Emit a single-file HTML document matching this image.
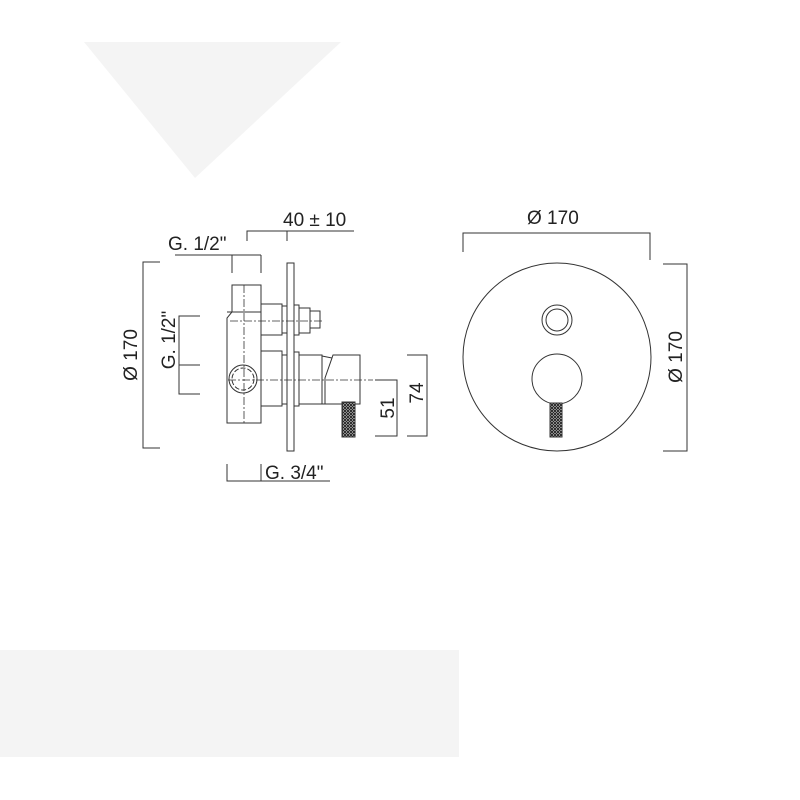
<!DOCTYPE html>
<html><head><meta charset="utf-8"><style>
html,body{margin:0;padding:0;background:#fff;width:800px;height:800px;overflow:hidden}
svg{display:block}
text{font-family:"Liberation Sans",sans-serif;font-size:19px;fill:#222}
</style></head><body>
<svg width="800" height="800" viewBox="0 0 800 800" xmlns="http://www.w3.org/2000/svg">
<defs>
<pattern id="kn" width="3" height="3" patternUnits="userSpaceOnUse">
<rect width="3" height="3" fill="#eee"/><path d="M0 0L3 3M3 0L0 3" stroke="#222" stroke-width="1"/>
</pattern>
</defs>
<polygon points="84,42 341,42 195,178" fill="#f4f4f4"/>
<rect x="0" y="650" width="459" height="107" fill="#f4f4f4"/>
<g fill="none" stroke="#333" stroke-width="1">
<path d="M160,262H143V448H160"/>
<path d="M200,316H179V394H200M179,365H200"/>
<path d="M175,255H261M232,255V273M261,255V273"/>
<path d="M247,241V231H354M287,231V241"/>
<path d="M227,464V481H330M261,464V481"/>
<path d="M375,380H397V436H375"/>
<path d="M407,355H427V436H407"/>
<path d="M232,285H261V423H227V318L232,312Z"/>
<path d="M227,312H261"/>
<rect x="261" y="304" width="21" height="31"/>
<rect x="282" y="306" width="5" height="27"/>
<rect x="287" y="263" width="7" height="188"/>
<rect x="294" y="305" width="5" height="30"/>
<rect x="299" y="308" width="11" height="25"/>
<rect x="310" y="311" width="10" height="17"/>
<rect x="261" y="351" width="21" height="55"/>
<rect x="282" y="355" width="5" height="49"/>
<rect x="294" y="352" width="5" height="54"/>
<rect x="299" y="355" width="23" height="49"/>
<path d="M322,356L332,358L325,378V404H360V355H333L325,378"/>
<path d="M322,404H325"/>
<circle cx="243" cy="379" r="14"/>
<circle cx="243" cy="379" r="11" stroke-dasharray="5,2"/>
<rect x="342" y="402" width="13" height="35" fill="url(#kn)"/>
<g stroke-dasharray="8,2,2,2" stroke-width="0.8">
<path d="M244,285V423"/>
<path d="M230,321H322"/>
<path d="M228,380H373"/>
</g>
<path d="M463,252V233H650V260"/>
<path d="M663,264H687V451H663"/>
<circle cx="557" cy="357" r="94"/>
<circle cx="557" cy="320" r="15"/>
<circle cx="557" cy="320" r="11"/>
<circle cx="557" cy="379" r="25"/>
<rect x="550" y="403" width="12" height="34" fill="url(#kn)"/>
</g>
<text x="168" y="250">G. 1/2"</text>
<text x="283" y="226">40 ± 10</text>
<text x="265" y="479">G. 3/4"</text>
<text x="527" y="224">Ø 170</text>
<text transform="translate(137,355) rotate(-90)" text-anchor="middle">Ø 170</text>
<text transform="translate(175,340) rotate(-90)" text-anchor="middle">G. 1/2"</text>
<text transform="translate(394,408) rotate(-90)" text-anchor="middle">51</text>
<text transform="translate(423,393) rotate(-90)" text-anchor="middle">74</text>
<text transform="translate(682,357) rotate(-90)" text-anchor="middle">Ø 170</text>
</svg>
</body></html>
